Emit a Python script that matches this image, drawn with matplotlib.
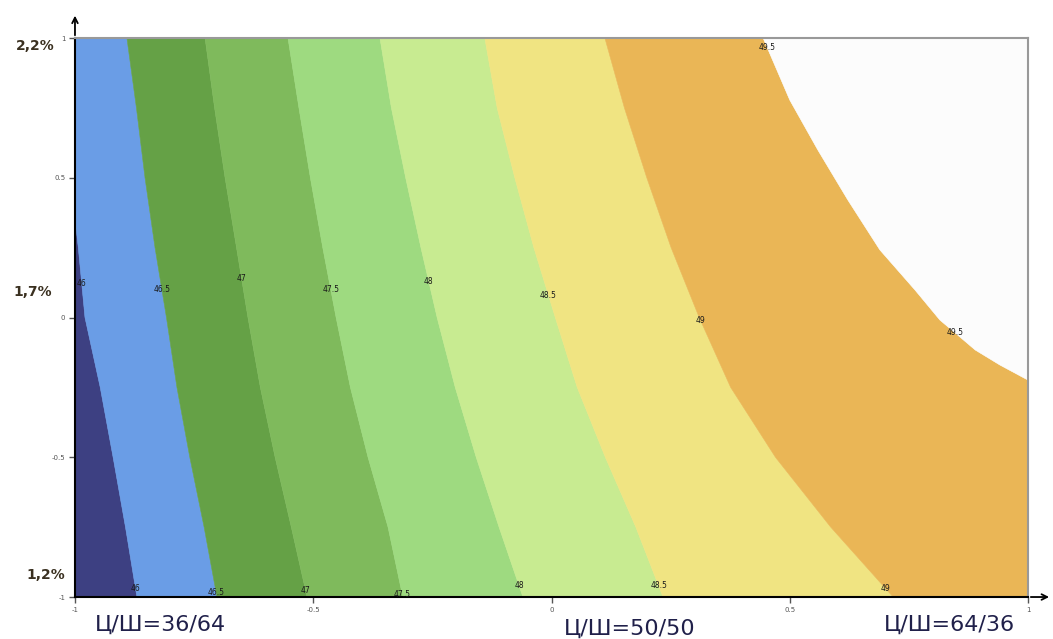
import numpy as np
import matplotlib.pyplot as plt

y_rows = [1.0, 0.75, 0.5, 0.25, 0.0, -0.25, -0.5, -0.75, -1.0]

# x position of every contour line at y_rows
line_46 = [-1.06, -1.035, -1.01, -0.993, -0.979, -0.947, -0.92, -0.894, -0.870]
line_465 = [-0.891, -0.871, -0.853, -0.832, -0.808, -0.786, -0.759, -0.729, -0.702]
line_47 = [-0.727, -0.707, -0.685, -0.661, -0.637, -0.611, -0.580, -0.546, -0.513]
line_475 = [-0.553, -0.530, -0.506, -0.480, -0.452, -0.422, -0.385, -0.343, -0.312]
line_48 = [-0.360, -0.336, -0.306, -0.274, -0.240, -0.202, -0.158, -0.110, -0.060]
line_485 = [-0.140, -0.114, -0.077, -0.037, 0.008, 0.054, 0.113, 0.177, 0.234]
line_49 = [0.112, 0.153, 0.200, 0.251, 0.310, 0.376, 0.470, 0.586, 0.717]

# the 49.5 line bends out through the right edge
y_495 = [1.0, 0.778, 0.599, 0.420, 0.242, 0.098, -0.009, -0.055, -0.116,
         -0.170, -0.224, -0.26, -0.5, -1.0]
line_495 = [0.444, 0.500, 0.559, 0.622, 0.689, 0.763, 0.815, 0.847, 0.889,
            0.941, 1.0, 1.1, 1.5, 2.0]

levels = ['46', '46.5', '47', '47.5', '48', '48.5', '49', '49.5']
colors = ['#3d4082', '#6a9de6', '#65a146', '#7fba5c', '#9eda80',
          '#c8eb91', '#f0e482', '#eab656', '#fcfcfc']

# where the level numbers sit (y of mid label, y of edge label)
label_y_mid = [0.12, 0.10, 0.14, 0.10, 0.13, 0.08, -0.01, -0.055]
label_y_edge = [-0.97, -0.985, -0.975, -0.99, -0.96, -0.96, -0.97, 0.965]

left_labels = ['2,2%', '1,7%', '1,2%']
left_label_x = [-1.042, -1.048, -1.021]
left_label_y = [0.97, 0.09, -0.92]
bottom_labels = ['Ц/Ш=36/64', 'Ц/Ш=50/50', 'Ц/Ш=64/36']
bottom_label_x = [-0.82, 0.165, 0.836]
bottom_label_y = [-1.10, -1.115, -1.10]

#%%
fig = plt.figure(figsize=(10.53, 6.39), dpi=100)
ax = fig.add_axes([0.0712, 0.0657, 0.9051, 0.8748])

lines = [(y_rows, l) for l in [line_46, line_465, line_47, line_475, line_48, line_485, line_49]]
lines.append((y_495, line_495))

# band polygons: left edge far out, every contour line, right edge far out
far_left = ([1.0, -1.0], [-2.0, -2.0])
far_right = ([1.0, -1.0], [3.0, 3.0])
bounds = [far_left] + lines + [far_right]

for i in range(len(bounds) - 1):
    ya, xa = bounds[i]
    yb, xb = bounds[i + 1]
    px = list(xa) + list(xb)[::-1]
    py = list(ya) + list(yb)[::-1]
    ax.fill(px, py, color=colors[i], linewidth=0.4, edgecolor=colors[i])

# level numbers on the lines
for i, (yy, xx) in enumerate(lines):
    yy_inc = np.array(yy)[::-1]
    xx_inc = np.array(xx)[::-1]
    for ly in [label_y_mid[i], label_y_edge[i]]:
        lx = np.interp(ly, yy_inc, xx_inc)
        if -1 <= lx <= 1:
            ax.text(lx, ly, levels[i], fontsize=5.5, ha='center', va='center',
                    color='#1a1a1a')

ax.set_xlim(-1, 1)
ax.set_ylim(-1, 1)
ax.set_xticks([-1, -0.5, 0, 0.5, 1])
ax.set_yticks([-1, -0.5, 0, 0.5, 1])
ax.set_xticklabels(['-1', '-0.5', '0', '0.5', '1'])
ax.set_yticklabels(['-1', '-0.5', '0', '0.5', '1'])
ax.tick_params(labelsize=5, colors='#555555', length=4, width=1, pad=3)

for s in ['top', 'right']:
    ax.spines[s].set_color('#999999')
    ax.spines[s].set_linewidth(1.5)
for s in ['left', 'bottom']:
    ax.spines[s].set_color('black')
    ax.spines[s].set_linewidth(1.5)

# axis arrows
ax.annotate('', xy=(0, 1.045), xytext=(0, 1.0), xycoords='axes fraction',
            arrowprops=dict(arrowstyle='->', color='black', lw=1.3))
ax.annotate('', xy=(1.025, 0), xytext=(1.0, 0), xycoords='axes fraction',
            arrowprops=dict(arrowstyle='->', color='black', lw=1.3))

for txt, xv, yv in zip(left_labels, left_label_x, left_label_y):
    ax.text(xv, yv, txt, fontsize=10, fontweight='bold', color='#3a3020',
            ha='right', va='center', clip_on=False)

for txt, xv, yv in zip(bottom_labels, bottom_label_x, bottom_label_y):
    ax.text(xv, yv, txt, fontsize=16, color='#20204a', ha='center',
            va='center', clip_on=False)

fig.savefig('out.png', dpi=100)
